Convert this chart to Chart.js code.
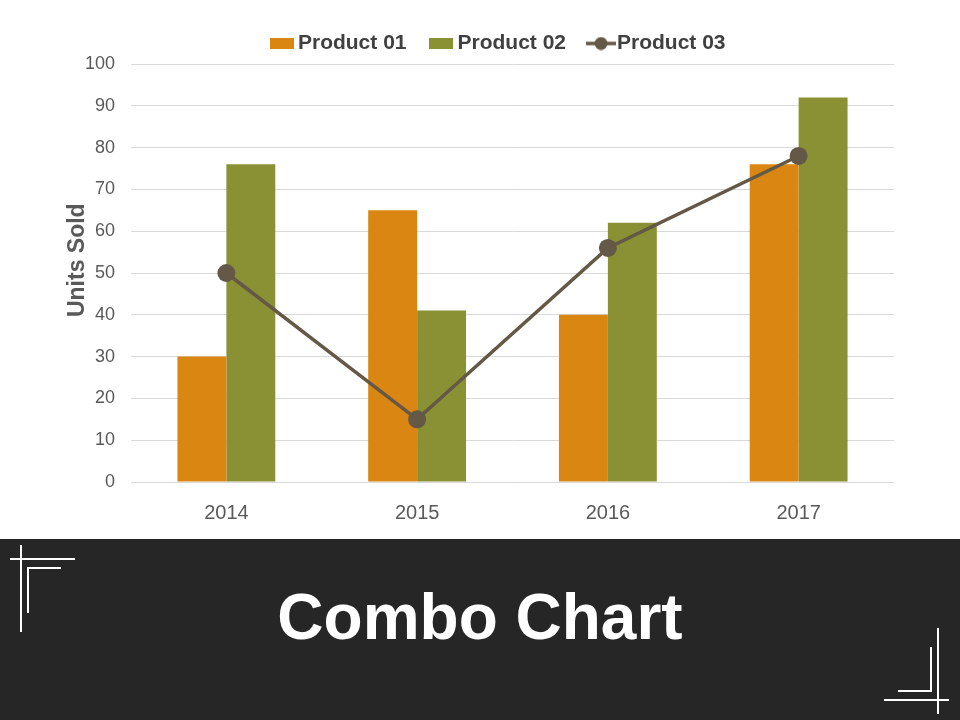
<!DOCTYPE html>
<html>
<head>
<meta charset="utf-8">
<script src="https://cdn.jsdelivr.net/npm/chart.js@4.4.1/dist/chart.umd.min.js"></script>
<style>
html,body{margin:0;padding:0;background:#ffffff;}
body{width:960px;height:720px;position:relative;overflow:hidden;font-family:"Liberation Sans",Arial,sans-serif;}
#wrap{position:absolute;left:0;top:0;width:960px;height:539px;}
#banner{position:absolute;left:0;top:539px;width:960px;height:181px;background:#262626;}
#title{position:absolute;left:0;top:46px;width:960px;height:64px;line-height:64px;text-align:center;color:#ffffff;font-weight:bold;font-size:64px;font-family:"Liberation Sans",Arial,sans-serif;}
.ln{position:absolute;background:#ffffff;}
</style>
</head>
<body>
<div id="wrap"><canvas id="c"></canvas></div>
<div id="banner"><div id="title">Combo Chart</div></div>
<div class="ln" style="left:10px;top:558px;width:65px;height:2px"></div>
<div class="ln" style="left:20px;top:545px;width:2px;height:87px"></div>
<div class="ln" style="left:27px;top:567px;width:34px;height:2px"></div>
<div class="ln" style="left:27px;top:567px;width:2px;height:46px"></div>
<div class="ln" style="left:937px;top:628px;width:2px;height:86px"></div>
<div class="ln" style="left:884px;top:699px;width:65px;height:2px"></div>
<div class="ln" style="left:930px;top:647px;width:2px;height:45px"></div>
<div class="ln" style="left:898px;top:690px;width:34px;height:2px"></div>
<script>
const categories = ['2014', '2015', '2016', '2017'];
const product01 = [30, 65, 40, 76];
const product02 = [76, 41, 62, 92];
const product03 = [50, 15, 56, 78];
const seriesNames = ['Product 01', 'Product 02', 'Product 03'];
const yAxisTitle = 'Units Sold';
const yMin = 0;
const yMax = 100;
const yStep = 10;

const FONT = '"Liberation Sans", Arial, sans-serif';
const COLOR1 = '#D98613';
const COLOR2 = '#8A9134';
const COLOR3 = '#645846';

function rectIcon(color) {
  const c = document.createElement('canvas');
  c.width = 24; c.height = 11;
  const g = c.getContext('2d');
  g.fillStyle = color;
  g.fillRect(0, 0, 24, 11);
  return c;
}
function lineIcon(color) {
  const c = document.createElement('canvas');
  c.width = 30; c.height = 14;
  const g = c.getContext('2d');
  g.strokeStyle = color;
  g.lineWidth = 3.5;
  g.beginPath(); g.moveTo(0, 7); g.lineTo(30, 7); g.stroke();
  g.fillStyle = color;
  g.beginPath(); g.arc(15, 7, 6.5, 0, Math.PI * 2); g.fill();
  return c;
}
const icons = [rectIcon(COLOR1), rectIcon(COLOR2), lineIcon(COLOR3)];

Chart.defaults.font.family = FONT;

// shift the centred legend row so it sits where the reference has it
const legendShift = {
  id: 'legendShift',
  afterLayout(chart) {
    if (chart.legend) { chart.legend.left += 14; chart.legend.right += 14; }
  }
};

new Chart(document.getElementById('c'), {
  plugins: [legendShift],
  data: {
    labels: categories,
    datasets: [
      { type: 'bar', label: seriesNames[0], data: product01, backgroundColor: COLOR1, order: 1,
        categoryPercentage: 0.513, barPercentage: 1 },
      { type: 'bar', label: seriesNames[1], data: product02, backgroundColor: COLOR2, order: 1,
        categoryPercentage: 0.513, barPercentage: 1 },
      { type: 'line', label: seriesNames[2], data: product03, borderColor: COLOR3, backgroundColor: COLOR3,
        borderWidth: 3.5, pointRadius: 9, pointHoverRadius: 9, pointBackgroundColor: COLOR3,
        pointBorderColor: COLOR3, pointBorderWidth: 0, tension: 0, fill: false, order: 0 }
    ]
  },
  options: {
    responsive: true,
    maintainAspectRatio: false,
    animation: false,
    events: [],
    layout: { padding: { left: 80, right: 66, top: 3.5, bottom: 0 } },
    plugins: {
      tooltip: { enabled: false },
      legend: {
        position: 'top',
        align: 'center',
        labels: {
          usePointStyle: true,
          pointStyleWidth: 11,
          padding: 29.5,
          color: '#404040',
          font: { family: FONT, size: 21, weight: 'bold' },
          generateLabels: (chart) => chart.data.datasets.map((ds, i) => ({
            text: ds.label,
            fillStyle: i === 2 ? COLOR3 : ds.backgroundColor,
            strokeStyle: 'rgba(0,0,0,0)',
            lineWidth: 0,
            pointStyle: icons[i],
            hidden: false,
            datasetIndex: i,
            fontColor: '#404040'
          }))
        }
      }
    },
    scales: {
      x: {
        grid: { display: false },
        border: { display: false },
        ticks: { color: '#595959', font: { family: FONT, size: 20 }, padding: 11 },
        afterFit: (s) => { s.height = 57; }
      },
      y: {
        min: yMin,
        max: yMax,
        ticks: { stepSize: yStep, color: '#595959', font: { family: FONT, size: 18 }, padding: 16 },
        grid: { color: '#d9d9d9', lineWidth: 1, drawTicks: false },
        border: { display: false },
        title: {
          display: true,
          text: '    ' + yAxisTitle,
          color: '#595959',
          font: { family: FONT, size: 23, weight: 'bold' },
          padding: { top: -16, bottom: 0 }
        },
        afterFit: (s) => { s.width = 51; }
      }
    }
  }
});
</script>
</body>
</html>
